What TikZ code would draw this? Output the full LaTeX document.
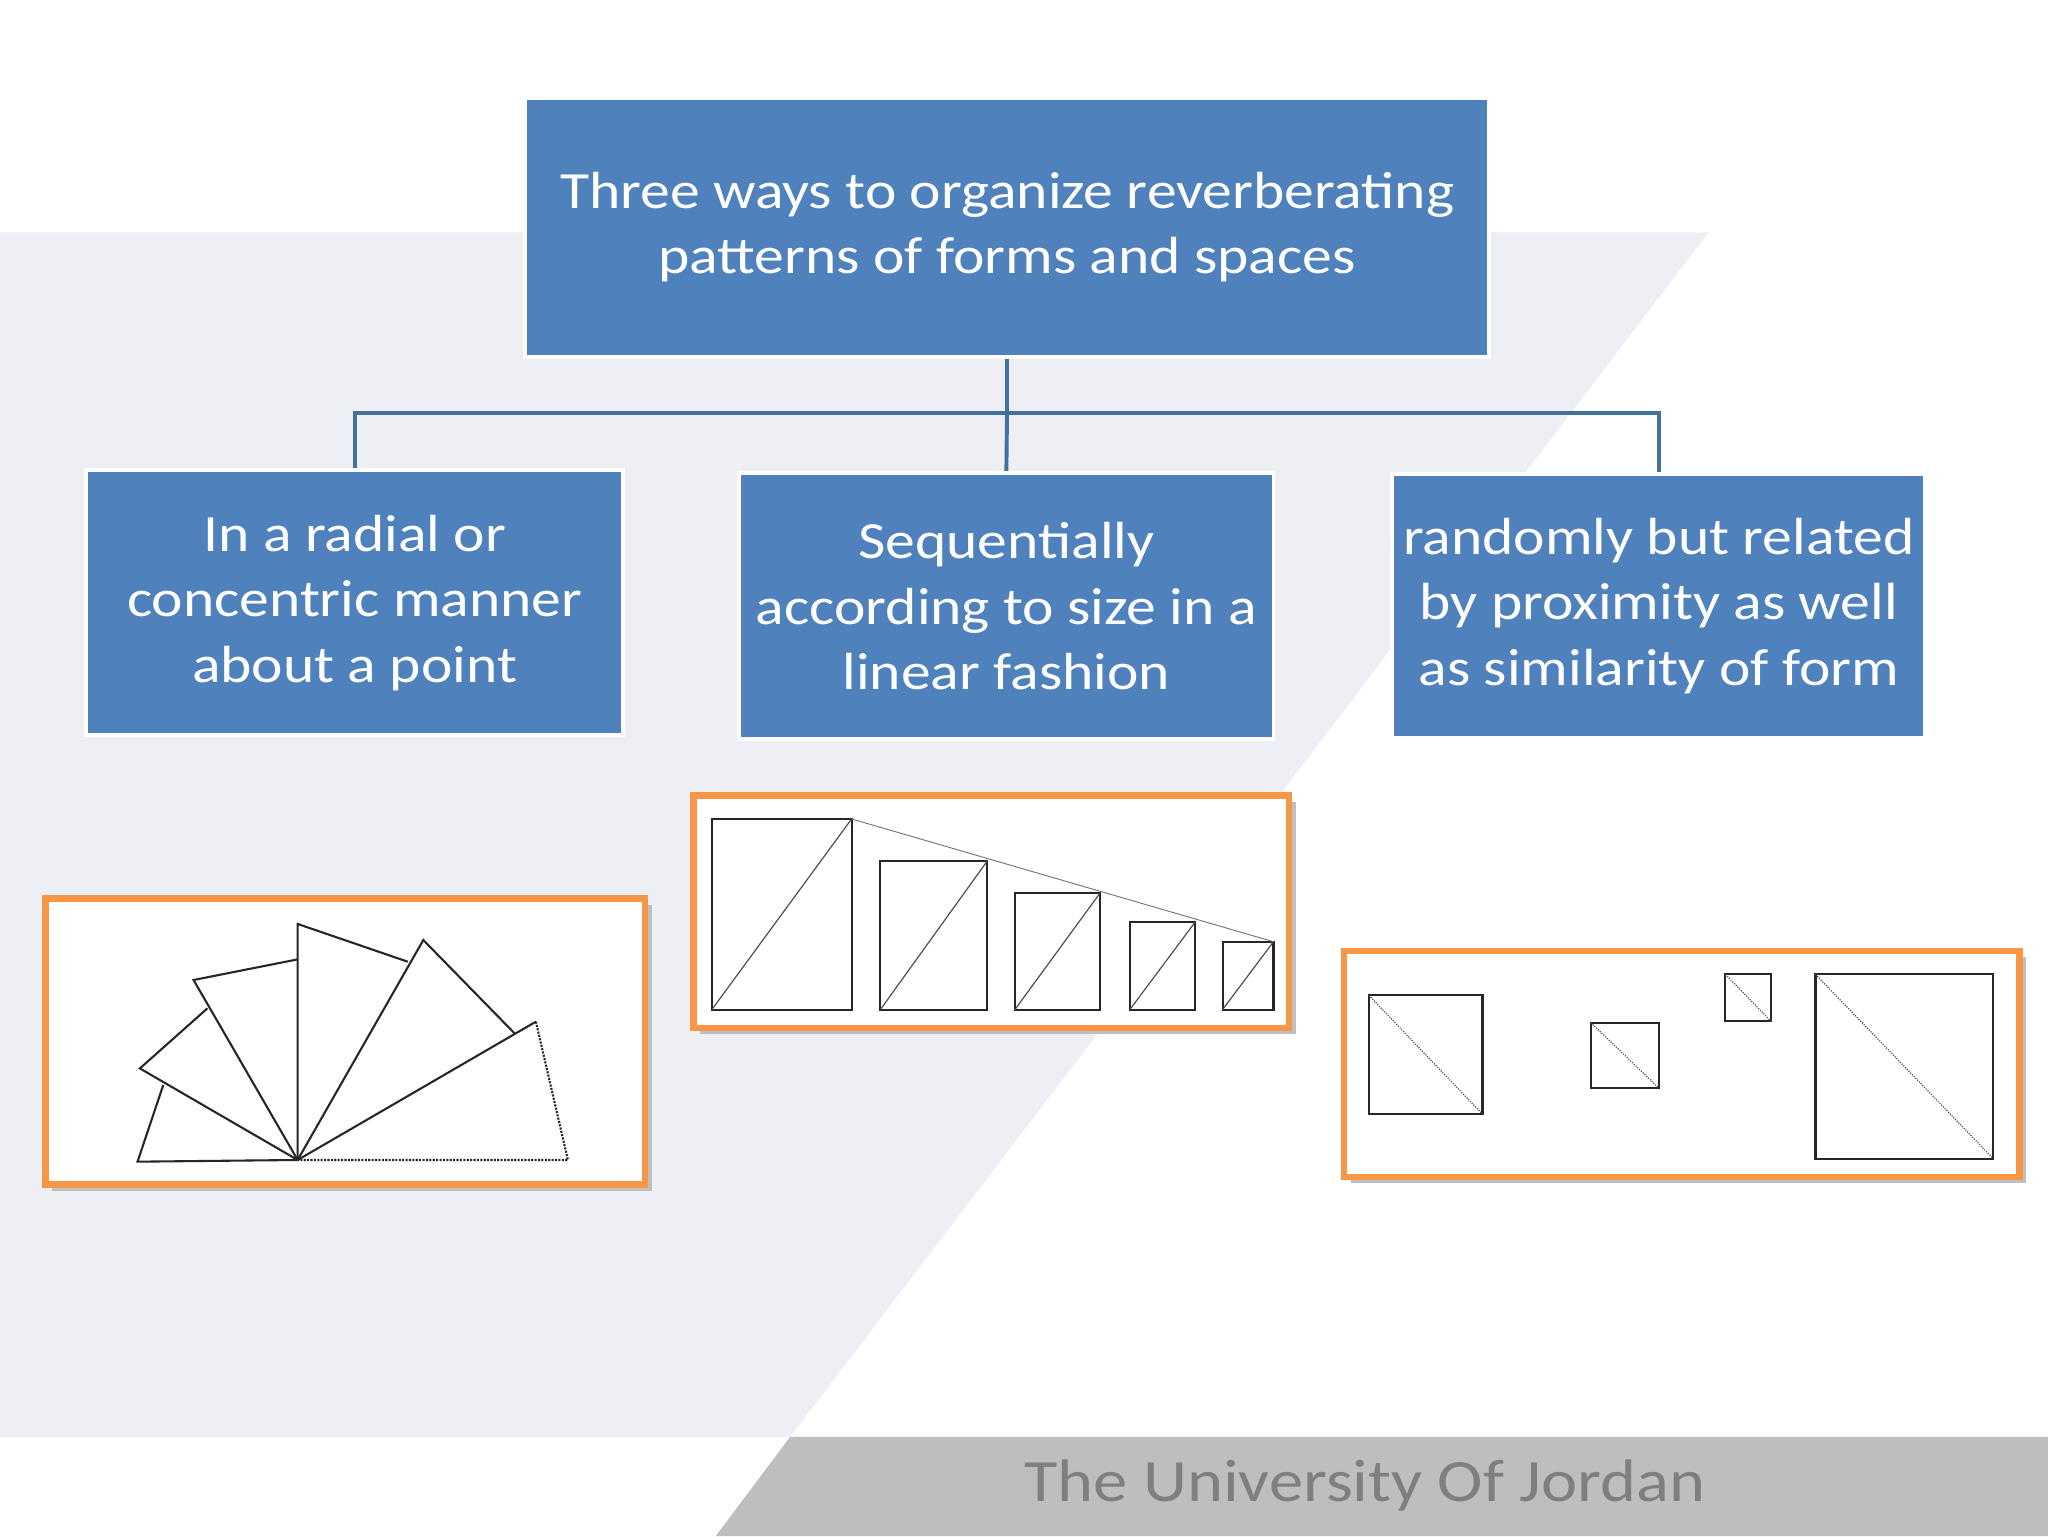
\documentclass[tikz,border=0pt]{standalone}
\usepackage{fontspec}
\setmainfont[FakeStretch=1.14]{Carlito}
\definecolor{boxblue}{RGB}{79,129,189}
\definecolor{connblue}{RGB}{65,113,156}
\definecolor{orng}{RGB}{247,150,70}
\definecolor{lav}{RGB}{238,238,245}
\definecolor{band}{RGB}{190,190,192}
\definecolor{foottxt}{RGB}{127,127,127}
\begin{document}
\begin{tikzpicture}[x=1pt,y=-1pt,
  bbox/.style={draw=white,line width=3pt,fill=boxblue,text=white,align=center,font=\fontsize{40}{50}\selectfont,inner sep=0pt},
  frame/.style={draw=orng,line width=5pt,fill=white},
  conn/.style={draw=connblue,line width=3pt},
  ln/.style={line width=1.6pt,black!85}]
\useasboundingbox (0,0) rectangle (1568,1176);
\fill[white] (0,0) rectangle (1568,1176);
\fill[lav] (0,178) -- (1308,178) -- (605,1100) -- (0,1100) -- cycle;
\fill[band] (605,1100) -- (1568,1100) -- (1568,1176) -- (548,1176) -- cycle;
\node[text=foottxt,font=\fontsize{46}{50}\selectfont] (foot) at (1045,1137) {The University Of Jordan};
% boxes
\node[bbox,minimum width=738pt,minimum height=198pt] (top) at (771,174) {Three ways to organize reverberating\\patterns of forms and spaces};
\node[bbox,minimum width=411pt,minimum height=203pt] (b1) at (271.5,461.5) {In a radial or\\concentric manner\\about a point};
\node[bbox,minimum width=409pt,minimum height=204pt] (b2) at (770.5,464) {Sequentially\\according to size in a\\linear fashion};
\node[bbox,minimum width=408pt,minimum height=202pt] (b3) at (1270,464) {randomly but related\\by proximity as well\\as similarity of form};
\coordinate (j) at (771,316);
\draw[conn] (top.south) -- (j);
\draw[conn] (b1.north) |- (j) -| (b3.north);
\draw[conn] (j) -- (b2.north);
% frames
\fill[black!25] (40,693) rectangle (499,912);
\fill[black!25] (536,614) rectangle (992,792);
\fill[black!25] (1034,733) rectangle (1551,906);
\draw[frame] (35,688) rectangle (494,907);
\draw[frame] (531,609) rectangle (987,787);
\draw[frame] (1029,728) rectangle (1546,901);
% fan
\coordinate (O) at (227.9,888.1);
\coordinate (A) at (105.3,889.4); \coordinate (B) at (125,830.7);
\coordinate (C) at (107.1,818); \coordinate (D) at (158.8,772);
\coordinate (E) at (148.2,750.3); \coordinate (F) at (227.9,734.5);
\coordinate (G) at (227.9,707.4); \coordinate (H) at (312.2,736.3);
\coordinate (I) at (324.1,719.7); \coordinate (J) at (393.9,791.1);
\coordinate (K) at (410.3,782.2); \coordinate (L) at (434.8,888.1);
\draw[ln] (O) -- (A) -- (B);
\draw[ln] (O) -- (C) -- (D);
\draw[ln] (O) -- (E) -- (F);
\draw[ln] (O) -- (G) -- (H);
\draw[ln] (O) -- (I) -- (J);
\draw[ln] (O) -- (K);
\draw[ln,densely dotted] (K) -- (L) -- (O);
% linear
\foreach \a/\b/\c/\d in {545/627/652/773,674/659/756/773,777/684/842/773,865/706/915/773,936/721/975/773}{
  \draw[ln] (\a,\b) rectangle (\c,\d);
  \draw[black!70,line width=0.9pt] (\a,\d) -- (\c,\b);
}
\draw[black!55,line width=0.7pt] (652,627) -- (975,721);
% random
\foreach \a/\b/\c/\d in {1048/762/1135/853,1218/783/1270/833,1321/746/1356/782,1390/746/1526/887}{
  \draw[ln] (\a,\b) rectangle (\c,\d);
  \draw[black!70,line width=0.9pt,densely dotted] (\a,\b) -- (\c,\d);
}
\end{tikzpicture}
\end{document}
